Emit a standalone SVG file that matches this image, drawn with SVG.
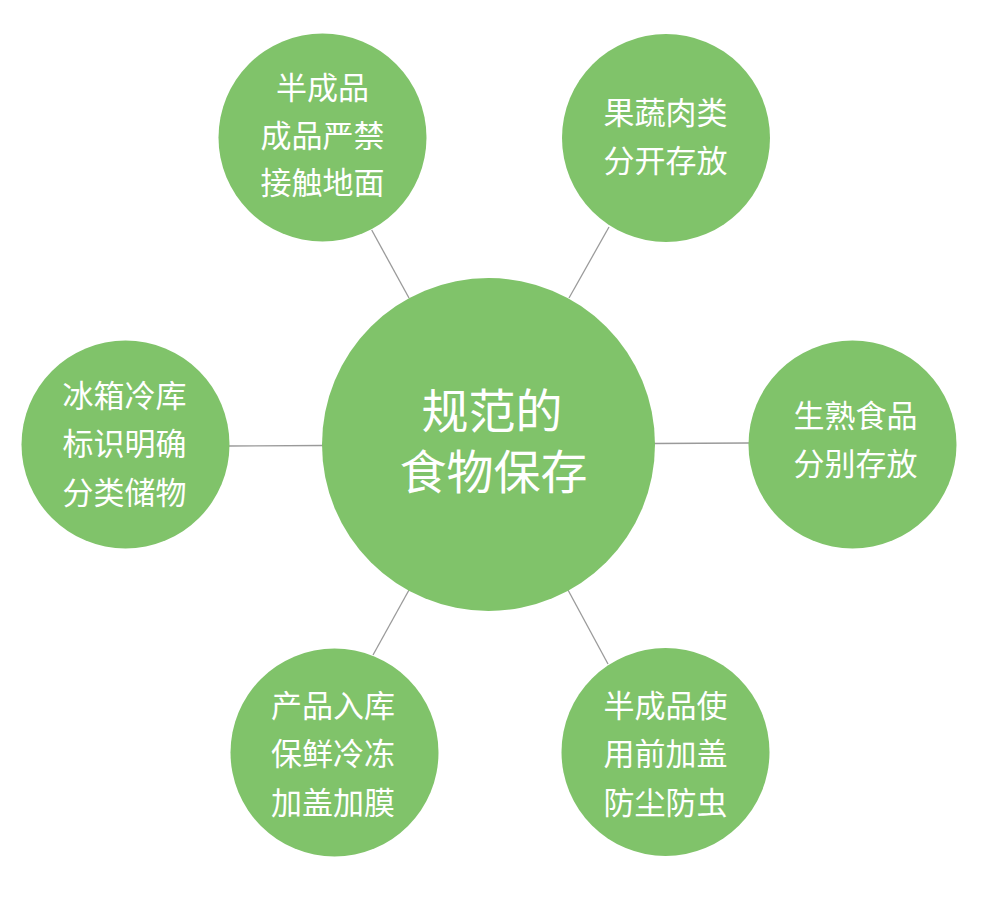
<svg xmlns="http://www.w3.org/2000/svg" width="990" height="909" viewBox="0 0 990 909">
<style>
.bg{fill:#ffffff}
.node circle{fill:#80C36A}
.node text{fill:#ffffff;font-family:"Microsoft YaHei","Noto Sans CJK SC",sans-serif;text-anchor:middle}
.sat text{font-size:31px}
.hub text{font-size:47px}
.conn line{stroke:#9a9a9a;stroke-width:1.3}
</style>
<rect class="bg" x="0" y="0" width="990" height="909"/>
<g id="connectors" class="conn">
<line x1="371.7" y1="230" x2="409" y2="298"/>
<line x1="609" y1="227" x2="569" y2="298"/>
<line x1="228" y1="446" x2="323" y2="445.5"/>
<line x1="654" y1="443.5" x2="749" y2="443"/>
<line x1="409" y1="590" x2="373" y2="655"/>
<line x1="568" y1="590" x2="608" y2="664"/>
</g>
<g id="hub" class="node hub">
<circle cx="488.5" cy="444.5" r="166.5"/>
<text x="492" y="428">规范的</text>
<text x="493.5" y="489">食物保存</text>
</g>
<g id="node-topleft" class="node sat">
<circle cx="322.5" cy="137.5" r="104"/>
<text x="322.5" y="99">半成品</text>
<text x="322.5" y="147">成品严禁</text>
<text x="322.5" y="194">接触地面</text>
</g>
<g id="node-topright" class="node sat">
<circle cx="666" cy="138" r="104"/>
<text x="665.5" y="124">果蔬肉类</text>
<text x="665.5" y="172">分开存放</text>
</g>
<g id="node-left" class="node sat">
<circle cx="125.5" cy="444.5" r="104"/>
<text x="124.5" y="407">冰箱冷库</text>
<text x="124.5" y="455">标识明确</text>
<text x="124.5" y="504">分类储物</text>
</g>
<g id="node-right" class="node sat">
<circle cx="852.5" cy="444.5" r="104"/>
<text x="855.5" y="427">生熟食品</text>
<text x="855.5" y="475">分别存放</text>
</g>
<g id="node-bottomleft" class="node sat">
<circle cx="334.5" cy="752.5" r="104"/>
<text x="333" y="717">产品入库</text>
<text x="333" y="765">保鲜冷冻</text>
<text x="333" y="814">加盖加膜</text>
</g>
<g id="node-bottomright" class="node sat">
<circle cx="665.5" cy="752" r="104"/>
<text x="665.5" y="717">半成品使</text>
<text x="665.5" y="765">用前加盖</text>
<text x="665.5" y="814">防尘防虫</text>
</g>
</svg>
